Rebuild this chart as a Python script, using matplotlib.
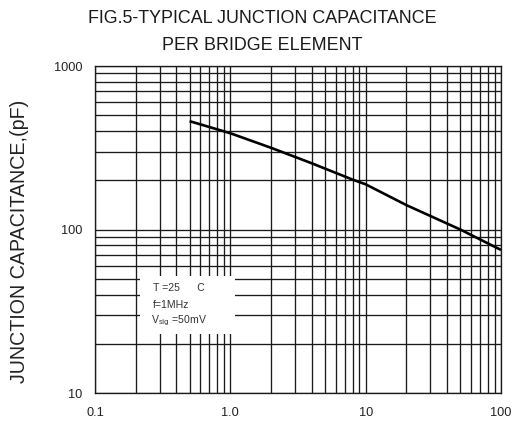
import matplotlib
matplotlib.use("Agg")
import matplotlib.pyplot as plt
from matplotlib.patches import Rectangle

# ---- values
reverse_v = [0.5, 1.0, 2.0, 3.3, 4.0, 8.0, 10.0, 20.0, 50.0, 100.0]
cap_pf = [460, 388, 316, 270, 254, 202, 189, 141, 100, 75]

x_ticks = [0.1, 1.0, 10, 100]
x_labels = ["0.1", "1.0", "10", "100"]
y_ticks = [10, 100, 1000]
y_labels = ["10", "100", "1000"]

plt.rcParams["font.family"] = ["Liberation Sans", "DejaVu Sans"]
GRID = "#1a1a1a"

fig = plt.figure(figsize=(5.16, 4.21), dpi=100)
ax = fig.add_axes([0.1841, 0.0665, 0.7868, 0.7767])
ax.set_xscale("log")
ax.set_yscale("log")
ax.set_xlim(0.1, 100)
ax.set_ylim(10, 1000)

ax.grid(which="both", color=GRID, lw=0.95, zorder=1)
ax.set_axisbelow(True)
for s in ax.spines.values():
    s.set_color(GRID)
    s.set_linewidth(0.95)

ax.set_xticks(x_ticks)
ax.set_xticklabels(x_labels)
ax.set_yticks(y_ticks)
ax.set_yticklabels(y_labels)
ax.tick_params(which="both", length=0, labelsize=9.2, colors="#222222")
ax.tick_params(axis="x", pad=10)
ax.tick_params(axis="y", pad=9)

# conditions box, blanking the grid behind it
ax.add_patch(Rectangle((0.111, 0.180), 0.234, 0.178, transform=ax.transAxes,
                       facecolor="white", edgecolor="none", zorder=2))
tk = dict(transform=ax.transAxes, fontsize=7.6, color="#333333", zorder=3,
          va="center", ha="left")
ax.text(0.143, 0.321, "T =25      C", **tk)
ax.text(0.143, 0.269, "f=1MHz", **tk)
ax.text(0.138, 0.220, r"V$_{\mathrm{sig}}$ =50mV", **tk)

ax.plot(reverse_v, cap_pf, color="black", lw=1.9, zorder=4,
        solid_capstyle="butt", solid_joinstyle="round")

ax.set_ylabel("JUNCTION CAPACITANCE,(pF)", fontsize=14.1, color="#222222")
ax.yaxis.set_label_coords(-0.163, 0.465)

fig.text(0.508, 0.957, "FIG.5-TYPICAL JUNCTION CAPACITANCE", ha="center",
         va="center", fontsize=12.9, color="#1a1a1a")
fig.text(0.508, 0.893, "PER BRIDGE ELEMENT", ha="center", va="center",
         fontsize=12.9, color="#1a1a1a")

fig.savefig("out.png", dpi=100)
